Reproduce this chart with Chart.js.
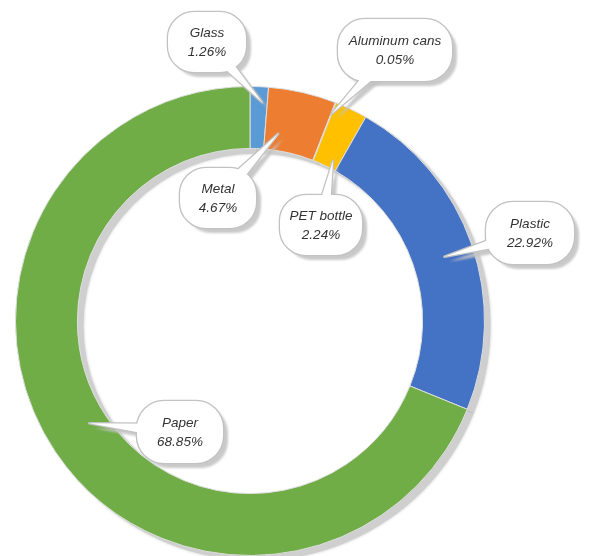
<!DOCTYPE html>
<html>
<head>
<meta charset="utf-8">
<script src="https://cdn.jsdelivr.net/npm/chart.js@4/dist/chart.umd.min.js"></script>
<style>
  html, body { margin: 0; padding: 0; background: #ffffff; }
  #wrap { width: 590px; height: 556px; position: relative; }
</style>
</head>
<body>
<div id="wrap"><canvas id="c" width="590" height="556"></canvas></div>
<script>
// ---- data ----
const categories = ['Glass', 'Metal', 'Aluminum cans', 'PET bottle', 'Plastic', 'Paper'];
const shares = [1.26, 4.67, 0.05, 2.24, 22.92, 68.85];
const percentLabels = ['1.26%', '4.67%', '0.05%', '2.24%', '22.92%', '68.85%'];
const sliceColors = ['#5B9BD5', '#ED7D31', '#A5A5A5', '#FFC000', '#4472C4', '#70AD47'];

// ---- callout layout (label box centre/size, pointer tip as fraction of arc) ----
const calloutBoxes = [
  { cx: 207, cy: 42,  w: 78,  h: 60 },
  { cx: 218, cy: 198, w: 76,  h: 60 },
  { cx: 395, cy: 50,  w: 114, h: 62 },
  { cx: 321, cy: 225, w: 82,  h: 60 },
  { cx: 530, cy: 233, w: 88,  h: 62 },
  { cx: 180, cy: 432, w: 86,  h: 62 }
];
const calloutTips = [
  { f: 0.70, g: 0.75 },
  { f: 0.24, g: 0.27 },
  { f: 0.50, g: 0.80 },
  { f: 0.72, g: 0.13 },
  { f: 0.51, g: 0.52 },
  { f: 0.506, g: 0.29 }
];

function boxPath(ctx, box, dx, dy) {
  const x = box.cx - box.w / 2 + dx, y = box.cy - box.h / 2 + dy;
  const w = box.w, h = box.h, r = h / 2.3;
  ctx.beginPath();
  ctx.moveTo(x + r, y);
  ctx.lineTo(x + w - r, y);
  ctx.arcTo(x + w, y, x + w, y + r, r);
  ctx.lineTo(x + w, y + h - r);
  ctx.arcTo(x + w, y + h, x + w - r, y + h, r);
  ctx.lineTo(x + r, y + h);
  ctx.arcTo(x, y + h, x, y + h - r, r);
  ctx.lineTo(x, y + r);
  ctx.arcTo(x, y, x + r, y, r);
  ctx.closePath();
}

function wedgePath(ctx, box, tip, dx, dy) {
  const ax = box.cx + dx, ay = box.cy + dy;
  const vx = tip.x + dx - ax, vy = tip.y + dy - ay;
  const len = Math.hypot(vx, vy) || 1;
  const px = -vy / len, py = vx / len;
  const half = 8;
  ctx.beginPath();
  ctx.moveTo(ax + px * half, ay + py * half);
  ctx.lineTo(tip.x + dx, tip.y + dy);
  ctx.lineTo(ax - px * half, ay - py * half);
  ctx.closePath();
}

const ringShadow = {
  id: 'ringShadow',
  beforeDatasetsDraw(chart) {
    const ctx = chart.ctx;
    const arcs = chart.getDatasetMeta(0).data;
    ctx.save();
    ctx.fillStyle = '#cfcfcf';
    ctx.shadowColor = 'rgba(150,150,150,0.6)';
    ctx.shadowBlur = 3;
    arcs.forEach(a => {
      const p = a.getProps(['x', 'y', 'startAngle', 'endAngle', 'innerRadius', 'outerRadius'], true);
      const ox = p.x + 6, oy = p.y + 5;
      ctx.beginPath();
      ctx.arc(ox, oy, p.outerRadius, p.startAngle, p.endAngle);
      ctx.arc(ox, oy, p.innerRadius, p.endAngle, p.startAngle, true);
      ctx.closePath();
      ctx.fill();
    });
    ctx.restore();
  }
};

const callouts = {
  id: 'callouts',
  afterDatasetsDraw(chart) {
    const ctx = chart.ctx;
    const arcs = chart.getDatasetMeta(0).data;
    arcs.forEach((a, i) => {
      const p = a.getProps(['x', 'y', 'startAngle', 'endAngle', 'innerRadius', 'outerRadius'], true);
      const t = calloutTips[i];
      const ang = p.startAngle + t.f * (p.endAngle - p.startAngle);
      const rad = p.innerRadius + t.g * (p.outerRadius - p.innerRadius);
      const tip = { x: p.x + Math.cos(ang) * rad, y: p.y + Math.sin(ang) * rad };
      const box = calloutBoxes[i];
      ctx.save();
      // shadow
      ctx.fillStyle = 'rgba(195,195,195,0.9)';
      ctx.filter = 'blur(1px)';
      boxPath(ctx, box, 5, 5); ctx.fill();
      wedgePath(ctx, box, tip, 5, 5); ctx.fill();
      ctx.filter = 'none';
      // outline
      ctx.strokeStyle = '#c2c2c2';
      ctx.lineWidth = 2.6;
      ctx.lineJoin = 'round';
      boxPath(ctx, box, 0, 0); ctx.stroke();
      wedgePath(ctx, box, tip, 0, 0); ctx.stroke();
      ctx.fillStyle = '#ffffff';
      boxPath(ctx, box, 0, 0); ctx.fill();
      wedgePath(ctx, box, tip, 0, 0); ctx.fill();
      // text
      ctx.fillStyle = '#333333';
      ctx.font = 'italic 13.5px "Liberation Sans", Arial, sans-serif';
      ctx.textAlign = 'center';
      ctx.textBaseline = 'middle';
      ctx.fillText(categories[i], box.cx, box.cy - 9);
      ctx.fillText(percentLabels[i], box.cx, box.cy + 10);
      ctx.restore();
    });
  }
};

new Chart(document.getElementById('c'), {
  type: 'doughnut',
  data: {
    labels: categories,
    datasets: [{
      data: shares,
      backgroundColor: sliceColors,
      borderColor: '#dedede',
      borderWidth: 1
    }]
  },
  options: {
    responsive: false,
    animation: false,
    cutout: '73.6%',
    rotation: 0,
    layout: { padding: { left: 15, right: 105, top: 86, bottom: 0 } },
    plugins: {
      legend: { display: false },
      tooltip: { enabled: false }
    }
  },
  plugins: [ringShadow, callouts]
});
</script>
</body>
</html>
